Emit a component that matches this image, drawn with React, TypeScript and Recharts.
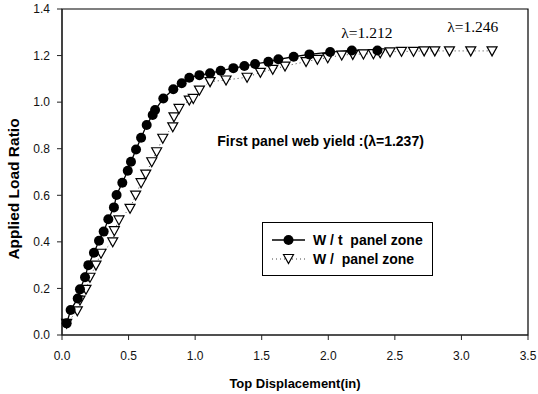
import { LineChart, Line, XAxis, YAxis, ReferenceArea, ReferenceDot, Legend, Label } from "recharts";

// W/t panel zone (solid line, filled circles)
const noPanelZone = [
  { disp: 0.035, load: 0.05 },
  { disp: 0.065, load: 0.107 },
  { disp: 0.118, load: 0.157 },
  { disp: 0.135, load: 0.196 },
  { disp: 0.173, load: 0.248 },
  { disp: 0.198, load: 0.3 },
  { disp: 0.24, load: 0.353 },
  { disp: 0.278, load: 0.405 },
  { disp: 0.313, load: 0.444 },
  { disp: 0.348, load: 0.497 },
  { disp: 0.39, load: 0.548 },
  { disp: 0.41, load: 0.601 },
  { disp: 0.453, load: 0.654 },
  { disp: 0.494, load: 0.705 },
  { disp: 0.518, load: 0.744 },
  { disp: 0.556, load: 0.797 },
  { disp: 0.594, load: 0.847 },
  { disp: 0.636, load: 0.902 },
  { disp: 0.681, load: 0.945 },
  { disp: 0.699, load: 0.966 },
  { disp: 0.761, load: 1.016 },
  { disp: 0.836, load: 1.055 },
  { disp: 0.899, load: 1.081 },
  { disp: 0.956, load: 1.105 },
  { disp: 1.032, load: 1.116 },
  { disp: 1.112, load: 1.124 },
  { disp: 1.192, load: 1.135 },
  { disp: 1.287, load: 1.146 },
  { disp: 1.37, load: 1.155 },
  { disp: 1.45, load: 1.164 },
  { disp: 1.55, load: 1.173 },
  { disp: 1.625, load: 1.184 },
  { disp: 1.74, load: 1.195 },
  { disp: 1.858, load: 1.205 },
  { disp: 2.014, load: 1.215 },
  { disp: 2.177, load: 1.222 },
  { disp: 2.369, load: 1.222 },
];

// W/ panel zone (dotted line, open triangles)
const withPanelZone = [
  { disp: 0.035, load: 0.05 },
  { disp: 0.115, load: 0.104 },
  { disp: 0.135, load: 0.15 },
  { disp: 0.18, load: 0.196 },
  { disp: 0.21, load: 0.248 },
  { disp: 0.255, load: 0.3 },
  { disp: 0.293, load: 0.351 },
  { disp: 0.381, load: 0.4 },
  { disp: 0.393, load: 0.448 },
  { disp: 0.428, load: 0.494 },
  { disp: 0.511, load: 0.544 },
  { disp: 0.553, load: 0.601 },
  { disp: 0.594, load: 0.654 },
  { disp: 0.629, load: 0.691 },
  { disp: 0.674, load: 0.744 },
  { disp: 0.711, load: 0.787 },
  { disp: 0.757, load: 0.845 },
  { disp: 0.832, load: 0.894 },
  { disp: 0.841, load: 0.937 },
  { disp: 0.879, load: 0.973 },
  { disp: 0.956, load: 1.009 },
  { disp: 0.986, load: 1.016 },
  { disp: 1.032, load: 1.052 },
  { disp: 1.112, load: 1.088 },
  { disp: 1.232, load: 1.095 },
  { disp: 1.39, load: 1.107 },
  { disp: 1.49, load: 1.128 },
  { disp: 1.583, load: 1.141 },
  { disp: 1.675, load: 1.155 },
  { disp: 1.833, load: 1.174 },
  { disp: 1.918, load: 1.184 },
  { disp: 1.996, load: 1.191 },
  { disp: 2.101, load: 1.202 },
  { disp: 2.184, load: 1.205 },
  { disp: 2.264, load: 1.207 },
  { disp: 2.339, load: 1.208 },
  { disp: 2.39, load: 1.212 },
  { disp: 2.464, load: 1.216 },
  { disp: 2.55, load: 1.218 },
  { disp: 2.64, load: 1.218 },
  { disp: 2.72, load: 1.22 },
  { disp: 2.8, load: 1.22 },
  { disp: 2.91, load: 1.22 },
  { disp: 3.07, load: 1.22 },
  { disp: 3.23, load: 1.22 },
];

const xTicks = [0, 0.5, 1, 1.5, 2, 2.5, 3, 3.5];
const yTicks = [0, 0.2, 0.4, 0.6, 0.8, 1, 1.2, 1.4];

const notes = [
  { disp: 2.29, load: 1.297, text: "λ=1.212", serif: true },
  { disp: 3.085, load: 1.324, text: "λ=1.246", serif: true },
  { disp: 1.942, load: 0.833, text: "First panel web yield :(λ=1.237)", serif: false },
];

const SANS = "Arial, 'Liberation Sans', Helvetica, sans-serif";
const SERIF = "'Times New Roman', 'Liberation Serif', serif";

const Circle = ({ cx, cy }: { cx: number; cy: number }) => <circle cx={cx} cy={cy} r={5} fill="#000" />;

const Triangle = ({ cx, cy }: { cx: number; cy: number }) => (
  <path d={`M${cx - 5},${cy - 4}L${cx + 5},${cy - 4}L${cx},${cy + 5}Z`} fill="#fff" stroke="#000" strokeWidth={1.2} />
);

const LegendBox = () => (
  <svg width={172} height={55} style={{ display: "block" }}>
    <rect x={0.5} y={0.5} width={170} height={53} fill="#fff" stroke="#000" />
    <line x1={10} y1={18} x2={43} y2={18} stroke="#000" strokeWidth={1.4} />
    <Circle cx={26.5} cy={18} />
    <text x={51} y={18} dy="0.36em" fontFamily={SANS} fontWeight="bold" fontSize={14} fill="#000" style={{ whiteSpace: "pre" }}>
      W / t  panel zone
    </text>
    <line x1={10} y1={37} x2={43} y2={37} stroke="#444" strokeDasharray="1 3" />
    <Triangle cx={26.5} cy={36.5} />
    <text x={51} y={37} dy="0.36em" fontFamily={SANS} fontWeight="bold" fontSize={14} fill="#000" style={{ whiteSpace: "pre" }}>
      W /  panel zone
    </text>
  </svg>
);

export default function App() {
  return (
    <div style={{ position: "absolute", left: 0, top: 0, width: 538, height: 394 }}>
      <LineChart width={538} height={394} margin={{ top: 9, right: 10, left: 0, bottom: 0 }} style={{ overflow: "visible" }}>
        <XAxis
          dataKey="disp"
          type="number"
          domain={[0, 3.5]}
          ticks={xTicks}
          tickFormatter={(v: number) => v.toFixed(1)}
          height={59}
          tickSize={5}
          tickMargin={11}
          stroke="#222"
          tick={{ fontSize: 12, fill: "#111", fontFamily: SANS }}
        >
          <Label
            value="Top Displacement(in)"
            position="insideBottom"
            offset={6}
            fontSize={13}
            fontWeight="bold"
            fill="#000"
            fontFamily={SANS}
          />
        </XAxis>
        <YAxis
          dataKey="load"
          type="number"
          domain={[0, 1.4]}
          ticks={yTicks}
          tickFormatter={(v: number) => v.toFixed(1)}
          width={62}
          tickSize={5}
          tickMargin={7}
          stroke="#222"
          tick={{ fontSize: 12, fill: "#111", fontFamily: SANS }}
        >
          <Label
            content={() => (
              <text
                x={13}
                y={189}
                transform="rotate(-90, 13, 189)"
                textAnchor="middle"
                dy="0.36em"
                fontSize={15.5}
                fontWeight="bold"
                fill="#000"
                fontFamily={SANS}
              >
                Applied Load Ratio
              </text>
            )}
          />
        </YAxis>
        <ReferenceArea x1={0} x2={3.5} y1={0} y2={1.4} fill="none" stroke="#000" strokeWidth={1.2} />
        <Line
          data={withPanelZone}
          dataKey="load"
          name="W /  panel zone"
          stroke="#444"
          strokeWidth={1}
          strokeDasharray="1 3"
          isAnimationActive={false}
          dot={(p: any) => <Triangle key={`t-${p.index}`} cx={p.cx} cy={p.cy} />}
        />
        <Line
          data={noPanelZone}
          dataKey="load"
          name="W / t  panel zone"
          stroke="#000"
          strokeWidth={1.3}
          isAnimationActive={false}
          dot={(p: any) => <Circle key={`c-${p.index}`} cx={p.cx} cy={p.cy} />}
        />
        {notes.map((n) => (
          <ReferenceDot
            key={n.text}
            x={n.disp}
            y={n.load}
            r={0}
            fill="none"
            stroke="none"
            label={{
              value: n.text,
              position: "center",
              fontSize: n.serif ? 15.5 : 14,
              fontWeight: n.serif ? "normal" : "bold",
              fontFamily: n.serif ? SERIF : SANS,
              fill: "#000",
            }}
          />
        ))}
        <Legend
          layout="vertical"
          align="center"
          verticalAlign="middle"
          wrapperStyle={{ left: 262, top: 222, width: "auto", height: "auto" }}
          content={() => <LegendBox />}
        />
      </LineChart>
    </div>
  );
}
